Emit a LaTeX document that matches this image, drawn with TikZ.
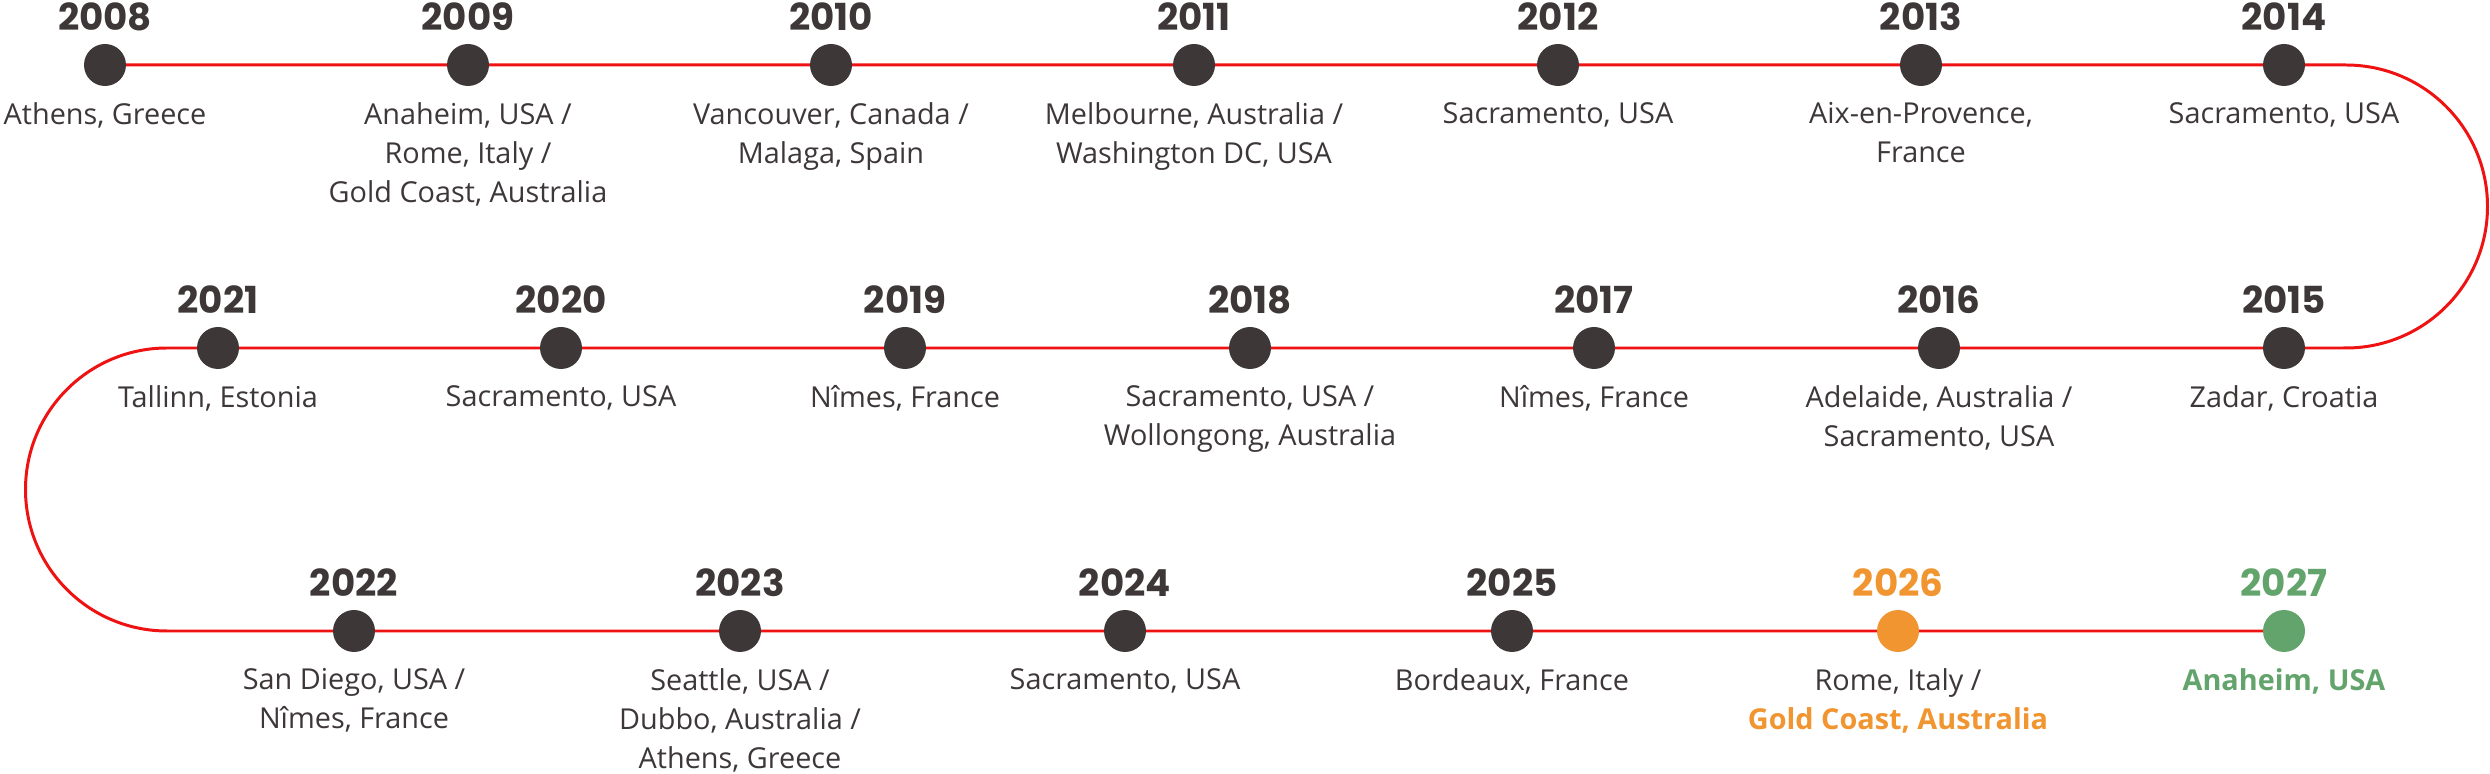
\documentclass[tikz,border=0pt]{standalone}
\usepackage{fontspec}
\setmainfont{Open Sans}
\newfontfamily\yearfont{Poppins}
\usepackage{tikz}
\usetikzlibrary{backgrounds,positioning}
\definecolor{dotgray}{HTML}{3D3738}
\definecolor{lineRed}{HTML}{EE1212}
\definecolor{futureOrange}{HTML}{F09530}
\definecolor{futureGreen}{HTML}{63A46C}
\tikzset{
  dot/.style={circle,fill=dotgray,minimum size=4.2mm,inner sep=0pt},
  year/.style={text=dotgray,font=\yearfont\bfseries\fontsize{10.6}{12}\selectfont,inner sep=0pt},
  place/.style={text=dotgray,font=\fontsize{8.2}{11.1}\selectfont,align=center,inner sep=0pt},
  track/.style={draw=lineRed,line width=0.85pt}
}

\begin{document}
\begin{tikzpicture}
\useasboundingbox (0,0) rectangle (24.9,-7.74);
\node[dot] (d2008) at (1.05,-0.65) {};
\node[dot] (d2009) at (4.68,-0.65) {};
\node[dot] (d2010) at (8.31,-0.65) {};
\node[dot] (d2011) at (11.94,-0.65) {};
\node[dot] (d2012) at (15.58,-0.65) {};
\node[dot] (d2013) at (19.21,-0.65) {};
\node[dot] (d2014) at (22.84,-0.65) {};
\node[dot] (d2015) at (22.84,-3.48) {};
\node[dot] (d2016) at (19.39,-3.48) {};
\node[dot] (d2017) at (15.94,-3.48) {};
\node[dot] (d2018) at (12.50,-3.48) {};
\node[dot] (d2019) at (9.05,-3.48) {};
\node[dot] (d2020) at (5.61,-3.48) {};
\node[dot] (d2021) at (2.18,-3.48) {};
\node[dot] (d2022) at (3.54,-6.31) {};
\node[dot] (d2023) at (7.40,-6.31) {};
\node[dot] (d2024) at (11.25,-6.31) {};
\node[dot] (d2025) at (15.12,-6.31) {};
\node[dot,fill=futureOrange] (d2026) at (18.98,-6.31) {};
\node[dot,fill=futureGreen] (d2027) at (22.84,-6.31) {};

\begin{scope}[on background layer]
\draw[track] (d2008.center) -- (d2014.center) -- ++(0.62,0) arc (90:-90:1.415) -- (d2015.center) -- (d2021.center) -- ++(-0.51,0) arc (90:270:1.415) -- (d2022.center) -- (d2027.center);
\end{scope}

\node[year,above=0.12cm of d2008] (y2008) {2008};
\node[year,above=0.12cm of d2009] (y2009) {2009};
\node[year,above=0.12cm of d2010] (y2010) {2010};
\node[year,above=0.12cm of d2011] (y2011) {2011};
\node[year,above=0.12cm of d2012] (y2012) {2012};
\node[year,above=0.12cm of d2013] (y2013) {2013};
\node[year,above=0.12cm of d2014] (y2014) {2014};
\node[year,above=0.12cm of d2015] (y2015) {2015};
\node[year,above=0.12cm of d2016] (y2016) {2016};
\node[year,above=0.12cm of d2017] (y2017) {2017};
\node[year,above=0.12cm of d2018] (y2018) {2018};
\node[year,above=0.12cm of d2019] (y2019) {2019};
\node[year,above=0.12cm of d2020] (y2020) {2020};
\node[year,above=0.12cm of d2021] (y2021) {2021};
\node[year,above=0.12cm of d2022] (y2022) {2022};
\node[year,above=0.12cm of d2023] (y2023) {2023};
\node[year,above=0.12cm of d2024] (y2024) {2024};
\node[year,above=0.12cm of d2025] (y2025) {2025};
\node[year,above=0.12cm of d2026,text=futureOrange] (y2026) {2026};
\node[year,above=0.12cm of d2027,text=futureGreen] (y2027) {2027};

\node[place,below=0.15cm of d2008] (p2008) {Athens, Greece};
\node[place,below=0.15cm of d2009] (p2009) {Anaheim, USA /\\Rome, Italy /\\Gold Coast, Australia};
\node[place,below=0.15cm of d2010] (p2010) {Vancouver, Canada /\\Malaga, Spain};
\node[place,below=0.15cm of d2011] (p2011) {Melbourne, Australia /\\Washington DC, USA};
\node[place,below=0.15cm of d2012] (p2012) {Sacramento, USA};
\node[place,below=0.15cm of d2013] (p2013) {Aix-en-Provence,\\France};
\node[place,below=0.15cm of d2014] (p2014) {Sacramento, USA};
\node[place,below=0.15cm of d2015] (p2015) {Zadar, Croatia};
\node[place,below=0.15cm of d2016] (p2016) {Adelaide, Australia /\\Sacramento, USA};
\node[place,below=0.15cm of d2017] (p2017) {Nîmes, France};
\node[place,below=0.15cm of d2018] (p2018) {Sacramento, USA /\\Wollongong, Australia};
\node[place,below=0.15cm of d2019] (p2019) {Nîmes, France};
\node[place,below=0.15cm of d2020] (p2020) {Sacramento, USA};
\node[place,below=0.15cm of d2021] (p2021) {Tallinn, Estonia};
\node[place,below=0.15cm of d2022] (p2022) {San Diego, USA /\\Nîmes, France};
\node[place,below=0.15cm of d2023] (p2023) {Seattle, USA /\\Dubbo, Australia /\\Athens, Greece};
\node[place,below=0.15cm of d2024] (p2024) {Sacramento, USA};
\node[place,below=0.15cm of d2025] (p2025) {Bordeaux, France};
\node[place,below=0.15cm of d2026] (p2026) {Rome, Italy /\\{\bfseries\color{futureOrange}Gold Coast, Australia}};
\node[place,below=0.15cm of d2027,text=futureGreen,font=\bfseries\fontsize{8.2}{11.1}\selectfont] (p2027) {Anaheim, USA};
\end{tikzpicture}
\end{document}
